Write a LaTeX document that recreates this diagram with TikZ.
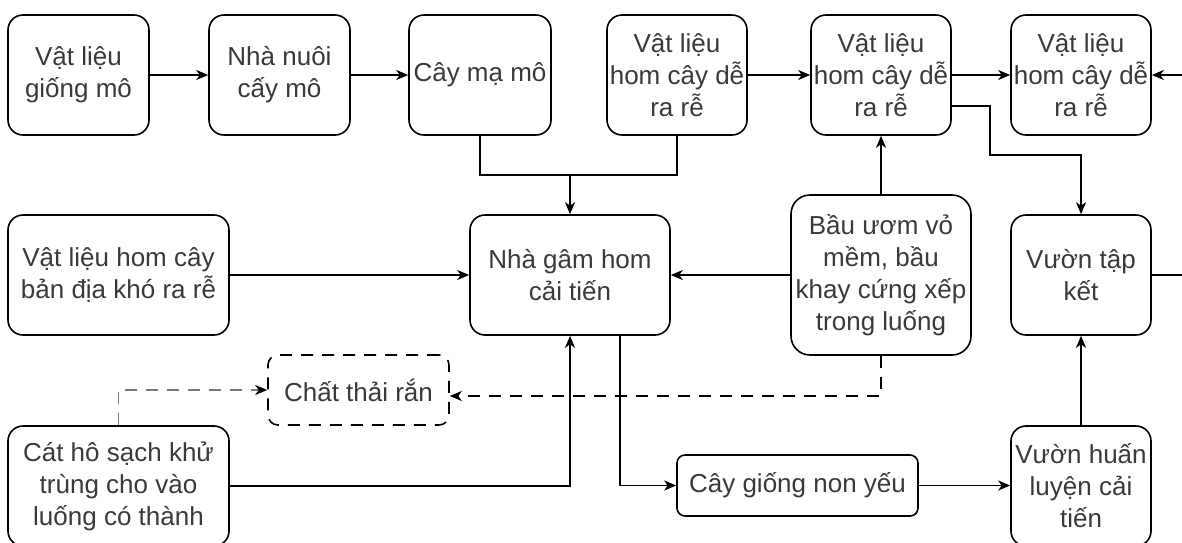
\documentclass[tikz,border=0pt]{standalone}
\usepackage{fontspec}
\setmainfont{Liberation Sans}
\usetikzlibrary{arrows.meta}
\definecolor{txt}{HTML}{3A3A3A}
\definecolor{dgray}{HTML}{7A7A7A}
\begin{document}
\begin{tikzpicture}[x=1pt,y=-1pt,
  box/.style={draw=black, line width=1.6pt, rounded corners=15pt, align=center, inner sep=1pt, text=txt, font=\fontsize{26}{32}\selectfont, minimum width=141pt, minimum height=120pt},
  ln/.style={line width=1.6pt},
  arr/.style={line width=1.6pt, -{Stealth[length=12pt,width=10pt,inset=3.5pt,color=black]}},
  dsh/.style={dash pattern=on 12pt off 9pt}]
\clip (0,0) rectangle (1182,542);
\fill[white] (0,0) rectangle (1182,542);
% top row
\node[box] (b1) at (78.5,75) {Vật liệu\\giống mô};
\node[box] (b2) at (279.5,75) {Nhà nuôi\\cấy mô};
\node[box, minimum width=142pt] (b3) at (480,75) {Cây mạ mô};
\node[box, minimum width=140pt] (b4) at (677,75) {Vật liệu\\hom cây dễ\\ra rễ};
\node[box, minimum width=140pt] (b5) at (881,75) {Vật liệu\\hom cây dễ\\ra rễ};
\node[box, minimum width=140pt] (b6) at (1081,75) {Vật liệu\\hom cây dễ\\ra rễ};
% middle row
\node[box, minimum width=221pt] (left) at (118.5,275) {Vật liệu hom cây\\bản địa khó ra rễ};
\node[box, minimum width=200pt] (main) at (570,275) {Nhà gâm hom\\cải tiến};
\node[box, minimum width=180pt, minimum height=160pt, rounded corners=19pt] (bau) at (881,275) {Bầu ươm vỏ\\mềm, bầu\\khay cứng xếp\\trong luống};
\node[box, minimum width=140pt] (vtk) at (1081,275) {Vườn tập\\kết};
% bottom row
\node[box, dsh, minimum width=181pt, minimum height=70pt, rounded corners=10pt] (ct) at (358.5,390) {Chất thải rắn};
\node[box, minimum width=221pt] (cat) at (118.5,486) {Cát hô sạch khử\\trùng cho vào\\luống có thành};
\node[box, minimum width=241pt, minimum height=61pt, rounded corners=8pt] (cg) at (797.5,485.5) {Cây giống non yếu};
\node[box, minimum width=140pt] (vhl) at (1081,486) {Vườn huấn\\luyện cải\\tiến};
% coordinates
\coordinate (j) at (570,175);
\coordinate (r6) at (1182,75);
\coordinate (rv) at (1182,275);
% connectors
\draw[arr] (b1) -- (b2);
\draw[arr] (b2) -- (b3);
\draw[arr] (b4) -- (b5);
\draw[arr] (b5) -- (b6);
\draw[arr] (r6) -- (b6.east);
\draw[ln] (b3.south) |- (j);
\draw[ln] (b4.south) |- (j);
\draw[arr] (j) -- (main.north);
\draw[arr] (left) -- (main);
\draw[arr] (bau) -- (main);
\draw[arr] (bau.north) -- (b5.south);
\draw[arr] ([yshift=-31pt]b5.east) -| (990,155) -| (vtk.north);
\draw[ln] (vtk.east) -- (rv);
\draw[arr] (vhl.north) -- (vtk.south);
\draw[arr] (cg.east) -- (vhl.west |- cg.east);
\draw[arr] ([xshift=50pt]main.south) |- (cg.west);
\draw[arr] (cat.east) -| (main.south);
\draw[arr, dsh] (bau.south) |- ([yshift=-6pt]ct.east);
\draw[arr, dsh, dgray] (cat.north) |- (ct.west);
\end{tikzpicture}
\end{document}
